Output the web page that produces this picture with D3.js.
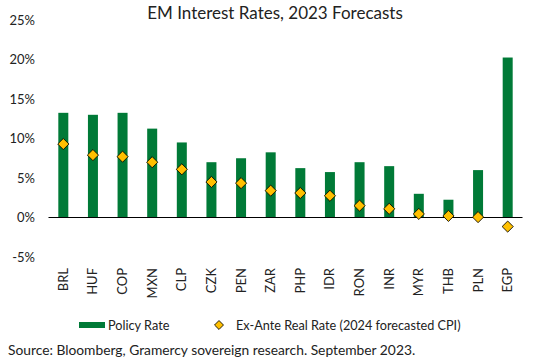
<!DOCTYPE html>
<html>
<head>
<meta charset="utf-8">
<script src="https://cdn.jsdelivr.net/npm/d3@7"></script>
<style>
  body { margin: 0; background: #fff; }
  svg text { font-family: Lato, "Open Sans", sans-serif; fill: #222; }
</style>
</head>
<body>
<svg id="chart" width="534" height="362"></svg>
<script>
// données
const currencies = ["BRL", "HUF", "COP", "MXN", "CLP", "CZK", "PEN", "ZAR", "PHP", "IDR", "RON", "INR", "MYR", "THB", "PLN", "EGP"];
const policyRate = [13.25, 13.0, 13.25, 11.25, 9.5, 7.0, 7.5, 8.25, 6.25, 5.75, 7.0, 6.5, 3.0, 2.25, 6.0, 20.25];
const realRate = [9.3, 7.9, 7.7, 7.0, 6.1, 4.5, 4.35, 3.4, 3.1, 2.75, 1.5, 1.1, 0.45, 0.2, 0.05, -1.15];
const yTicks = [-5, 0, 5, 10, 15, 20, 25];

const svg = d3.select("#chart");

const x = d3.scaleBand()
    .domain(currencies)
    .range([48.5, 522.5])
    .padding(0);

const y = d3.scaleLinear()
    .domain([-5, 25])
    .range([257, 20]);

// titre
svg.append("text")
    .attr("x", 275)
    .attr("y", 19)
    .attr("text-anchor", "middle")
    .style("font-size", "17px")
    .text("EM Interest Rates, 2023 Forecasts");

// axe Y (labels seulement)
svg.selectAll(".ylab")
    .data(yTicks)
    .enter()
    .append("text")
    .attr("class", "ylab")
    .attr("x", 35)
    .attr("y", d => y(d) + 4.5)
    .attr("text-anchor", "end")
    .style("font-size", "13px")
    .text(d => d + "%");

// barres
svg.selectAll(".bar")
    .data(policyRate)
    .enter()
    .append("rect")
    .attr("class", "bar")
    .attr("x", (d, i) => x(currencies[i]) + x.bandwidth() / 2 - 5)
    .attr("width", 10)
    .attr("y", d => y(d))
    .attr("height", d => y(0) - y(d))
    .style("fill", "#007a37");

// axe zero
svg.append("line")
    .attr("x1", 48.5)
    .attr("x2", 522.5)
    .attr("y1", y(0))
    .attr("y2", y(0))
    .style("stroke", "#000")
    .style("stroke-width", 1);

// losanges
const diamond = d3.symbol().type(d3.symbolSquare).size(62);
svg.selectAll(".pt")
    .data(realRate)
    .enter()
    .append("path")
    .attr("class", "pt")
    .attr("d", diamond)
    .attr("transform", (d, i) => `translate(${x(currencies[i]) + x.bandwidth() / 2},${y(d)}) rotate(45)`)
    .style("fill", "#ffc000")
    .style("stroke", "#000")
    .style("stroke-width", 0.8);

// labels X verticaux
svg.selectAll(".xlab")
    .data(currencies)
    .enter()
    .append("text")
    .attr("class", "xlab")
    .attr("transform", d => `translate(${x(d) + x.bandwidth() / 2 + 4.5},268) rotate(-90)`)
    .attr("text-anchor", "end")
    .style("font-size", "13px")
    .text(d => d);

// légende
svg.append("rect")
    .attr("x", 79)
    .attr("y", 322)
    .attr("width", 26)
    .attr("height", 6)
    .style("fill", "#007a37");
svg.append("text")
    .attr("x", 108)
    .attr("y", 330)
    .style("font-size", "12.7px")
    .text("Policy Rate");
svg.append("path")
    .attr("d", d3.symbol().type(d3.symbolSquare).size(40))
    .attr("transform", "translate(219,325) rotate(45)")
    .style("fill", "#ffc000")
    .style("stroke", "#000")
    .style("stroke-width", 0.8);
svg.append("text")
    .attr("x", 236)
    .attr("y", 330)
    .style("font-size", "12.7px")
    .text("Ex-Ante Real Rate (2024 forecasted CPI)");

// source
svg.append("text")
    .attr("x", 8)
    .attr("y", 355)
    .style("font-size", "13.8px")
    .text("Source: Bloomberg, Gramercy sovereign research. September 2023.");
</script>
</body>
</html>
